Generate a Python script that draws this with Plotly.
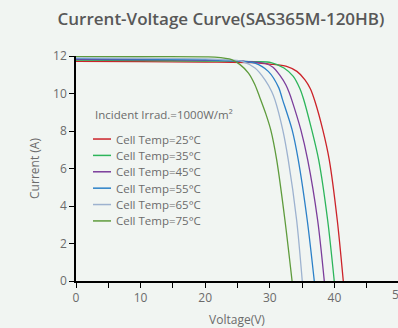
import plotly.graph_objects as go

# ---- data (Voltage in V, Current in A) ----
v25 = [0, 10, 20, 28, 30.0, 32.6, 34.2, 35.45, 36.3, 37.0, 38.2, 39.21, 40.45, 41.38]
i25 = [11.72, 11.70, 11.68, 11.64, 11.57, 11.45, 11.18, 10.73, 10.24, 9.57, 8.07, 6.46, 3.24, 0]

v35 = [0, 10, 20, 28, 30.2, 32.2, 33.64, 34.67, 35.19, 36.49, 37.57, 38.96, 39.98]
i35 = [11.78, 11.76, 11.73, 11.70, 11.65, 11.36, 10.91, 10.25, 9.75, 8.07, 6.46, 3.24, 0]

v45 = [0, 10, 20, 26, 29.3, 30.5, 31.6, 32.5, 33.0, 33.4, 34.8, 35.87, 37.41, 38.44]
i45 = [11.82, 11.80, 11.77, 11.72, 11.60, 11.40, 10.95, 10.45, 10.05, 9.66, 8.07, 6.46, 3.24, 0]

v55 = [0, 10, 20, 25, 27.7, 29.77, 31.4, 31.95, 33.45, 34.41, 35.80, 36.89]
i55 = [11.86, 11.84, 11.80, 11.74, 11.62, 11.18, 10.30, 9.70, 8.07, 6.46, 3.24, 0]

v65 = [0, 10, 20, 23, 25.65, 27.71, 29.26, 30.29, 30.8, 32.0, 32.86, 34.16, 35.03]
i65 = [11.90, 11.88, 11.85, 11.80, 11.72, 11.36, 10.73, 10.11, 9.66, 8.07, 6.46, 3.24, 0]

v75 = [0, 10, 20, 21.5, 24.1, 25.4, 26.7, 27.7, 28.5, 29.4, 30.14, 31.07, 32.35, 33.45]
i75 = [11.98, 11.97, 11.95, 11.94, 11.81, 11.54, 11.09, 10.47, 9.75, 8.90, 8.07, 6.46, 3.24, 0]

labels = ["Cell Temp=25°C", "Cell Temp=35°C", "Cell Temp=45°C",
          "Cell Temp=55°C", "Cell Temp=65°C", "Cell Temp=75°C"]
colors = ["#cc2229", "#2cb55a", "#7b3d9b", "#2b80c8", "#9db2cf", "#5e9b3c"]
volts = [v25, v35, v45, v55, v65, v75]
amps = [i25, i35, i45, i55, i65, i75]

legend_title = "Incident Irrad.=1000W/m²"
title = "Current-Voltage Curve(SAS365M-120HB)"

BG = "#f1f5f2"
TXT = "#6b6b6b"
FONT = "Open Sans"

fig = go.Figure()
for v, i, c, name in zip(volts, amps, colors, labels):
    fig.add_trace(go.Scatter(x=v, y=i, mode="lines", name=name, showlegend=False,
                             line=dict(color=c, width=1.3, shape="spline", smoothing=0.8)))

# manual legend (text as real text)
annotations = [dict(text=legend_title, xref="paper", yref="paper", x=0.0528, y=0.742,
                    xanchor="left", yanchor="middle", showarrow=False,
                    font=dict(family=FONT, size=11.5, color=TXT))]
shapes = []
row0, step = 0.631, 0.0728
for k, (name, c) in enumerate(zip(labels, colors)):
    yy = row0 - k * step
    shapes.append(dict(type="line", xref="paper", yref="paper", x0=0.0528, x1=0.1087,
                       y0=yy, y1=yy, line=dict(color=c, width=1.5)))
    annotations.append(dict(text=name, xref="paper", yref="paper", x=0.118, y=yy,
                            xanchor="left", yanchor="middle", showarrow=False,
                            font=dict(family=FONT, size=11.5, color=TXT)))
# the cut-off "50" tick label at the right edge
annotations.append(dict(text="50", xref="paper", yref="paper", x=1.003, y=-0.062,
                        xanchor="center", yanchor="middle", showarrow=False,
                        font=dict(family=FONT, size=12, color=TXT)))

fig.update_layout(
    width=398, height=328, autosize=False,
    paper_bgcolor=BG, plot_bgcolor=BG,
    margin=dict(l=76, r=0, t=56, b=47),
    font=dict(family=FONT, color=TXT),
    title=dict(text=title, x=221 / 398, xanchor="center",
               y=1 - 19 / 328, yanchor="middle", yref="container",
               font=dict(family=FONT, size=17, weight=600, color="#585858")),
    xaxis=dict(range=[0, 49.85], tick0=0, dtick=10, ticks="outside", ticklen=5,
               tickwidth=1.2, tickcolor="black", showline=True, linecolor="black",
               linewidth=2, showgrid=False, zeroline=False,
               tickfont=dict(family=FONT, size=12, color=TXT),
               minor=dict(dtick=5, ticks="outside", ticklen=5, tickwidth=1.2,
                          tickcolor="black", showgrid=False),
               title=dict(text="Voltage(V)", standoff=10,
                          font=dict(family=FONT, size=12, color=TXT))),
    yaxis=dict(range=[0, 12], tick0=0, dtick=2, ticks="outside", ticklen=5,
               tickwidth=1.2, tickcolor="black", showline=True, linecolor="black",
               linewidth=1.5, showgrid=False, zeroline=False,
               tickfont=dict(family=FONT, size=12, color=TXT),
               title=dict(text="Current (A)", standoff=11,
                          font=dict(family=FONT, size=12, color=TXT))),
    annotations=annotations, shapes=shapes,
)

fig.write_html("out.html", config={"displayModeBar": False},
               post_script="document.body.style.margin='0';document.body.style.background='%s';" % BG)
